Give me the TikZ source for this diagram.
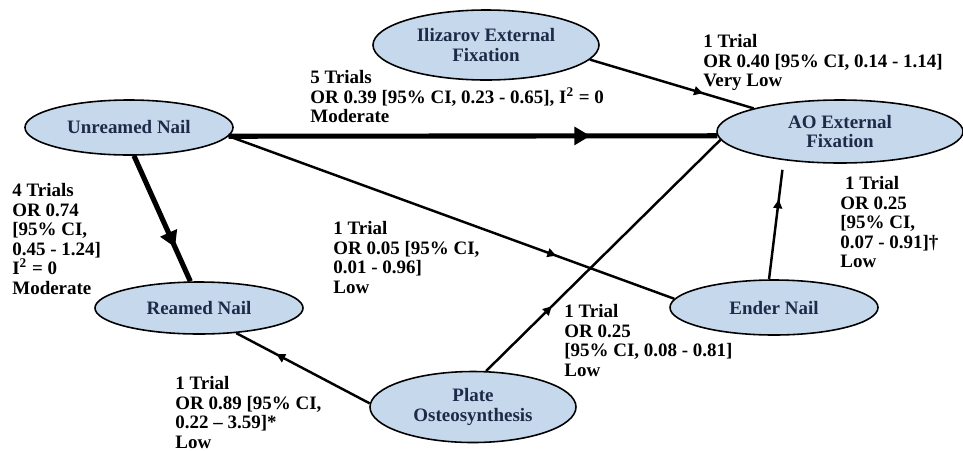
\documentclass[tikz,border=0pt]{standalone}
\usepackage{fontspec}
\setmainfont{Liberation Serif}
\usepackage{xcolor}
\usepackage{tikz}
\usetikzlibrary{arrows.meta, shapes.geometric, decorations.markings}

\definecolor{nodefill}{HTML}{C6D8EC}
\definecolor{nodetext}{HTML}{1E2B48}

\begin{document}
\begin{tikzpicture}[
  every node/.style={font=\fontsize{10.8}{11.1}\selectfont\bfseries},
  trt/.style={ellipse, draw=black, line width=0.9pt, fill=nodefill, text=nodetext,
              align=center, inner sep=0pt},
  lbl/.style={anchor=north west, align=left, inner sep=0pt},
  link/.style={line width=1.4pt},
  heavy/.style={line width=2.9pt},
  midarrow/.style={postaction={decorate}, decoration={markings,
      mark=at position #1 with {\arrow{Triangle[length=5pt, width=5pt]}}}},
  bigarrow/.style={postaction={decorate}, decoration={markings,
      mark=at position #1 with {\arrow{Triangle[length=9pt, width=10pt]}}}}
]
\useasboundingbox (0,0) rectangle (19.26,-9.00);

% --- Treatments ---
\node[trt, minimum width=4.52cm, minimum height=1.40cm] (iliz)     at (9.72,-0.90)  {Ilizarov External\\Fixation};
\node[trt, minimum width=4.16cm, minimum height=1.10cm] (unreamed) at (2.58,-2.55)  {Unreamed Nail};
\node[trt, minimum width=4.92cm, minimum height=1.26cm] (ao)       at (16.80,-2.63) {AO External\\Fixation};
\node[trt, minimum width=4.16cm, minimum height=1.04cm] (reamed)   at (3.98,-6.16)  {Reamed Nail};
\node[trt, minimum width=4.16cm, minimum height=1.10cm] (ender)    at (15.48,-6.15) {Ender Nail};
\node[trt, minimum width=4.12cm, minimum height=1.42cm] (plate)    at (9.46,-8.14)  {Plate\\Osteosynthesis};

% --- Comparisons ---
\draw[heavy, bigarrow=0.74] (unreamed.-5) -- (ao.182);
\draw[heavy, bigarrow=0.73] (unreamed.-80) -- (reamed.108);
\draw[link, midarrow=0.735] (unreamed.-5) -- (ender.175);
\draw[link, midarrow=0.69] (iliz.-8) -- (ao.165);
\draw[link, midarrow=0.28] (plate.70) -- (ao.184);
\draw[link, midarrow=0.70] (plate.178) -- (reamed.-34);
\draw[link, midarrow=0.67, shorten >=5.5pt] (ender.100) -- (ao.207);

% --- Evidence labels ---
\node[lbl] (l1) at (6.20,-1.40) {5 Trials\\OR 0.39 [95\% CI, 0.23 - 0.65], I\textsuperscript{2} = 0\\Moderate};
\node[lbl] (l2) at (14.06,-0.68) {1 Trial\\OR 0.40 [95\% CI, 0.14 - 1.14]\\Very Low};
\node[lbl] (l3) at (0.24,-3.66) {4 Trials\\OR 0.74\\[0pt][95\% CI,\\0.45 - 1.24]\\I\textsuperscript{2} = 0\\Moderate};
\node[lbl] (l4) at (6.66,-4.42) {1 Trial\\OR 0.05 [95\% CI,\\0.01 - 0.96]\\Low};
\node[lbl] (l5) at (16.80,-3.52) {\ 1 Trial\\OR 0.25\\[0pt][95\% CI,\\0.07 - 0.91]\textdagger\\Low};
\node[lbl] (l6) at (11.28,-6.08) {1 Trial\\OR 0.25\\[0pt][95\% CI, 0.08 - 0.81]\\Low};
\node[lbl] (l7) at (3.50,-7.52) {1 Trial\\OR 0.89 [95\% CI,\\0.22 -- 3.59]*\\Low};

\end{tikzpicture}
\end{document}
